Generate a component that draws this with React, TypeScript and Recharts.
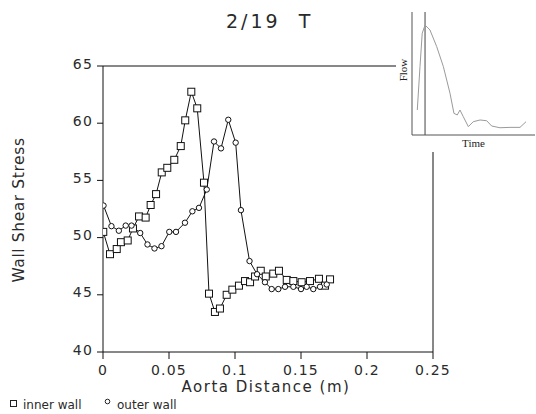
import React from 'react';
import { LineChart, Line, XAxis, YAxis, ReferenceLine, Customized } from 'recharts';

// Inner wall (squares)
const innerX = [0.0002, 0.0053, 0.0104, 0.0136, 0.0187, 0.0227, 0.0273, 0.0323, 0.0361, 0.0402, 0.0445, 0.0487, 0.054, 0.0589, 0.0623, 0.0669, 0.0714, 0.0765, 0.0803, 0.0848, 0.0886, 0.0937, 0.098, 0.103, 0.1076, 0.1114, 0.1152, 0.1195, 0.1233, 0.129, 0.1333, 0.1392, 0.1442, 0.1505, 0.1568, 0.1636, 0.1682, 0.172];
const innerWSS = [50.5, 48.55, 49.0, 49.6, 49.75, 50.8, 51.85, 51.75, 52.85, 53.8, 55.7, 56.1, 56.8, 58.0, 60.25, 62.75, 61.3, 54.8, 45.1, 43.5, 43.8, 45.0, 45.45, 45.8, 46.2, 46.1, 46.6, 47.1, 46.6, 46.85, 47.1, 46.3, 46.2, 46.1, 46.2, 46.4, 45.8, 46.35];

// Outer wall (circles)
const outerX = [0.0004, 0.0064, 0.012, 0.0172, 0.0216, 0.0282, 0.0337, 0.039, 0.0443, 0.0502, 0.0553, 0.0621, 0.0677, 0.0727, 0.0786, 0.0841, 0.0894, 0.0949, 0.1005, 0.1045, 0.111, 0.1167, 0.1227, 0.1278, 0.1328, 0.1379, 0.1442, 0.15, 0.1543, 0.1593, 0.1644, 0.1695];
const outerWSS = [52.8, 51.0, 50.6, 51.05, 51.05, 50.4, 49.4, 49.05, 49.25, 50.5, 50.5, 51.3, 52.3, 52.6, 54.2, 58.4, 57.8, 60.3, 58.3, 52.4, 47.95, 46.8, 46.1, 45.5, 45.5, 45.7, 45.7, 45.5, 45.7, 45.5, 45.7, 45.9];

const xTicks = [0, 0.05, 0.1, 0.15, 0.2, 0.25];
const xTickLabels = ['0', '0.05', '0.1', '0.15', '0.2', '0.25'];
const yTicks = [40, 45, 50, 55, 60, 65];

// Inset flow waveform
const flowTime = [0.043, 0.065, 0.083, 0.106, 0.146, 0.201, 0.255, 0.309, 0.341, 0.368, 0.39, 0.417, 0.458, 0.498, 0.553, 0.607, 0.648, 0.715, 0.797, 0.878, 0.927];
const flowRate = [0.203, 0.556, 0.827, 0.894, 0.854, 0.718, 0.556, 0.339, 0.176, 0.163, 0.203, 0.149, 0.068, 0.108, 0.122, 0.116, 0.073, 0.059, 0.062, 0.062, 0.108];
const markerTime = 0.106;

const innerData = innerX.map((x, i) => ({ x, v: innerWSS[i] }));
const outerData = outerX.map((x, i) => ({ x, v: outerWSS[i] }));
const flowData = flowTime.map((t, i) => ({ t, q: flowRate[i] }));

const FONT = '"DejaVu Sans", sans-serif';
const SERIF = '"Liberation Serif", serif';
const TXT = '#2a2a2a';

const SquareDot = (p: any) => {
  if (p.cx == null || p.cy == null) return <g key={`s${p.index}`} />;
  return <rect key={`s${p.index}`} x={p.cx - 3.5} y={p.cy - 3.5} width={7} height={7} fill="#fff" stroke="#111" strokeWidth={1} />;
};
const CircleDot = (p: any) => {
  if (p.cx == null || p.cy == null) return <g key={`c${p.index}`} />;
  return <circle key={`c${p.index}`} cx={p.cx} cy={p.cy} r={2.7} fill="#fff" stroke="#111" strokeWidth={1} />;
};

const YTick = (p: any) => (
  <text x={p.x} y={p.y + 2.5} textAnchor="end" fontFamily={FONT} fontSize={14} letterSpacing={1.2} fill={TXT}>
    {p.payload.value}
  </text>
);
const XTick = (p: any) => {
  const idx = xTicks.indexOf(p.payload.value);
  return (
    <text x={p.x} y={p.y + 14} textAnchor="middle" fontFamily={FONT} fontSize={14} letterSpacing={1.2} fill={TXT}>
      {idx >= 0 ? xTickLabels[idx] : p.payload.value}
    </text>
  );
};

const Titles = () => (
  <g>
    <text x={226} y={28} fontFamily={FONT} fontSize={19} letterSpacing={3} fill={TXT} style={{ whiteSpace: 'pre' }}>
      {'2/19  T'}
    </text>
    <text x={266} y={392} textAnchor="middle" fontFamily={FONT} fontSize={15} letterSpacing={1.5} fill={TXT}>
      Aorta Distance (m)
    </text>
    <text x={24} y={210} textAnchor="middle" transform="rotate(-90 24 210)" fontFamily={FONT} fontSize={15.5} letterSpacing={0.6} fill={TXT}>
      Wall Shear Stress
    </text>
    <rect x={10.5} y={400.5} width={6} height={6} fill="#fff" stroke="#222" strokeWidth={1} />
    <text x={23} y={409} fontFamily={FONT} fontSize={12} fill={TXT}>inner wall</text>
    <circle cx={107.5} cy={401.5} r={2.3} fill="#fff" stroke="#222" strokeWidth={1} />
    <text x={117} y={409} fontFamily={FONT} fontSize={12} fill={TXT}>outer wall</text>
  </g>
);

export default function App() {
  return (
    <div style={{ position: 'absolute', left: 0, top: 0, width: 536, height: 414, background: '#fff' }}>
      <LineChart width={536} height={414} margin={{ top: 66, right: 103, bottom: 22, left: 0 }}>
        <XAxis
          dataKey="x"
          type="number"
          domain={[0, 0.25]}
          ticks={xTicks}
          allowDataOverflow
          height={40}
          tickSize={7}
          tickMargin={2}
          axisLine={{ stroke: '#111' }}
          tickLine={{ stroke: '#111' }}
          tick={<XTick />}
        />
        <YAxis
          type="number"
          domain={[40, 65]}
          ticks={yTicks}
          width={103}
          tickSize={6}
          tickMargin={4}
          axisLine={{ stroke: '#111' }}
          tickLine={{ stroke: '#111' }}
          tick={<YTick />}
        />
        <ReferenceLine y={65} stroke="#111" strokeWidth={1} />
        <ReferenceLine x={0.25} stroke="#111" strokeWidth={1} />
        <Line data={innerData} dataKey="v" name="inner wall" type="linear" stroke="#111" strokeWidth={1} dot={SquareDot} activeDot={false} isAnimationActive={false} />
        <Line data={outerData} dataKey="v" name="outer wall" type="linear" stroke="#111" strokeWidth={1} dot={CircleDot} activeDot={false} isAnimationActive={false} />
        <Customized component={<Titles />} />
      </LineChart>

      <div style={{ position: 'absolute', left: 396, top: 0, width: 140, height: 152, background: '#fff' }}>
        <LineChart width={140} height={160} margin={{ top: 12, right: 1, bottom: 0, left: 0 }}>
          <XAxis
            dataKey="t"
            type="number"
            domain={[0, 1]}
            height={25}
            tick={false}
            tickLine={false}
            axisLine={{ stroke: '#555' }}
            label={{
              content: (props: any) => {
                const vb = props.viewBox || { x: 16, y: 135, width: 123 };
                return (
                  <text x={vb.x + vb.width / 2} y={vb.y + 12} textAnchor="middle" fontFamily={SERIF} fontSize={11} fill="#222">
                    Time
                  </text>
                );
              },
            }}
          />
          <YAxis
            type="number"
            domain={[0, 1]}
            width={16}
            tick={false}
            tickLine={false}
            axisLine={{ stroke: '#555' }}
            label={{
              content: () => (
                <text x={11} y={70} textAnchor="middle" transform="rotate(-90 11 70)" fontFamily={SERIF} fontSize={11} fill="#222">
                  Flow
                </text>
              ),
            }}
          />
          <ReferenceLine x={markerTime} stroke="#444" strokeWidth={1} />
          <Line data={flowData} dataKey="q" type="linear" stroke="#9a9a9a" strokeWidth={1} dot={false} activeDot={false} isAnimationActive={false} />
        </LineChart>
      </div>
    </div>
  );
}
